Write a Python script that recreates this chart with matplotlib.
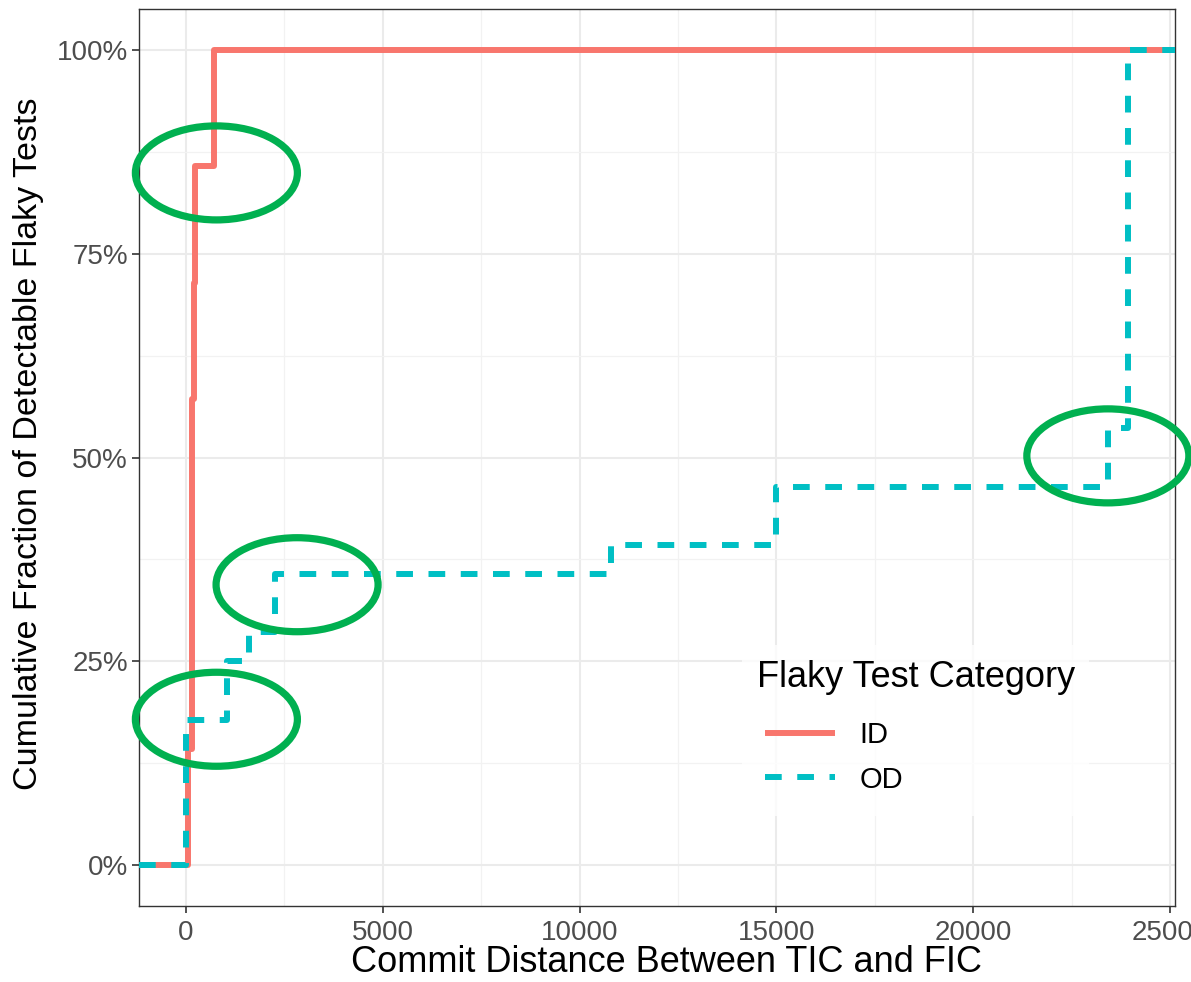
import matplotlib
matplotlib.use("Agg")
import matplotlib.pyplot as plt
import numpy as np
from matplotlib.patches import Ellipse
from matplotlib.ticker import FuncFormatter, MultipleLocator

plt.rcParams["font.family"] = ["Liberation Sans", "DejaVu Sans"]

# commit distance between TIC and FIC, one entry per detectable flaky test
id_distance = [60, 145, 145, 145, 200, 230, 720]
od_distance = [0, 0, 0, 0, 0, 1050, 1050, 1600, 2250, 2250, 10800,
               15000, 15000, 23430, 23430] + [23930] * 13
categories = ["ID", "OD"]
colors = {"ID": "#F8766D", "OD": "#00BFC4"}

# highlight ellipses (centre x, centre y fraction)
highlights = [(770, 0.849), (2820, 0.344), (770, 0.179), (23420, 0.502)]

x_ticks = [0, 5000, 10000, 15000, 20000, 25000]
y_ticks = [0, 0.25, 0.5, 0.75, 1.0]


def ecdf_steps(vals, lo, hi):
    v = np.sort(np.asarray(vals, dtype=float))
    y = np.arange(1, len(v) + 1) / len(v)
    xs = np.concatenate([[lo], v, [hi]])
    ys = np.concatenate([[0.0], y, [1.0]])
    return xs, ys


all_vals = np.array(id_distance + od_distance, dtype=float)
span = all_vals.max() - all_vals.min()
xlim = (all_vals.min() - 0.05 * span, all_vals.max() + 0.05 * span)

fig = plt.figure(figsize=(11.91, 9.82), dpi=100)
ax = fig.add_axes([139 / 1191, 1 - 906 / 982, (1175 - 139) / 1191, (906 - 9) / 982])

for cat, vals in zip(categories, [id_distance, od_distance]):
    xs, ys = ecdf_steps(vals, xlim[0], xlim[1])
    if cat == "ID":
        ax.step(xs, ys, where="post", color=colors[cat], lw=4.3,
                solid_capstyle="butt", label=cat, zorder=3)
    else:
        ax.step(xs, ys, where="post", color=colors[cat], lw=4.3,
                dashes=(2.8, 2.6), dash_capstyle="butt", label=cat, zorder=4)

ax.set_xlim(*xlim)
ax.set_ylim(-0.05, 1.05)
ax.set_xticks(x_ticks)
ax.set_yticks(y_ticks)
ax.xaxis.set_minor_locator(MultipleLocator(2500))
ax.yaxis.set_minor_locator(MultipleLocator(0.125))
ax.yaxis.set_major_formatter(FuncFormatter(lambda v, _: f"{v * 100:.0f}%"))
ax.grid(which="major", color="#EBEBEB", lw=1.5, zorder=0)
ax.grid(which="minor", color="#F2F2F2", lw=0.9, zorder=0)
ax.set_axisbelow(True)
for s in ax.spines.values():
    s.set_color("#333333")
    s.set_linewidth(1.0)
ax.tick_params(which="major", length=5, width=1.2, color="#333333",
               labelsize=20, labelcolor="#4D4D4D", pad=3)
ax.tick_params(axis="x", which="major", pad=5)
ax.tick_params(which="minor", length=0)

ax.set_xlabel("Commit Distance Between TIC and FIC", fontsize=26)
ax.set_ylabel("Cumulative Fraction of Detectable Flaky Tests", fontsize=24.5)
ax.xaxis.set_label_coords(0.509, -0.043)
ax.yaxis.set_label_coords(-0.092, 0.515)

# ellipse sizes: ~162 px wide, ~94 px tall in data units
px_x = (xlim[1] - xlim[0]) / (1175 - 139)
px_y = 1.10 / (906 - 9)
for cx, cy in highlights:
    ax.add_patch(Ellipse((cx, cy), 162 * px_x, 94 * px_y, fill=False,
                         edgecolor="#00B050", lw=5.2, clip_on=False, zorder=6))

leg = ax.legend(title="Flaky Test Category", loc="upper left",
                bbox_to_anchor=(742 / 1191, 1 - 645 / 982),
                bbox_transform=fig.transFigure, fontsize=21,
                title_fontsize=26, frameon=True, fancybox=False,
                handlelength=2.4, handletextpad=0.85, labelspacing=0.55,
                borderpad=0.5, borderaxespad=0)
leg.get_frame().set_facecolor("white")
leg.get_frame().set_edgecolor("none")
leg._legend_box.align = "left"
leg._legend_box.sep = 0.55 * 21 + 2
leg._legend_handle_box.pad = 5.8

fig.savefig("out.png", dpi=100)
